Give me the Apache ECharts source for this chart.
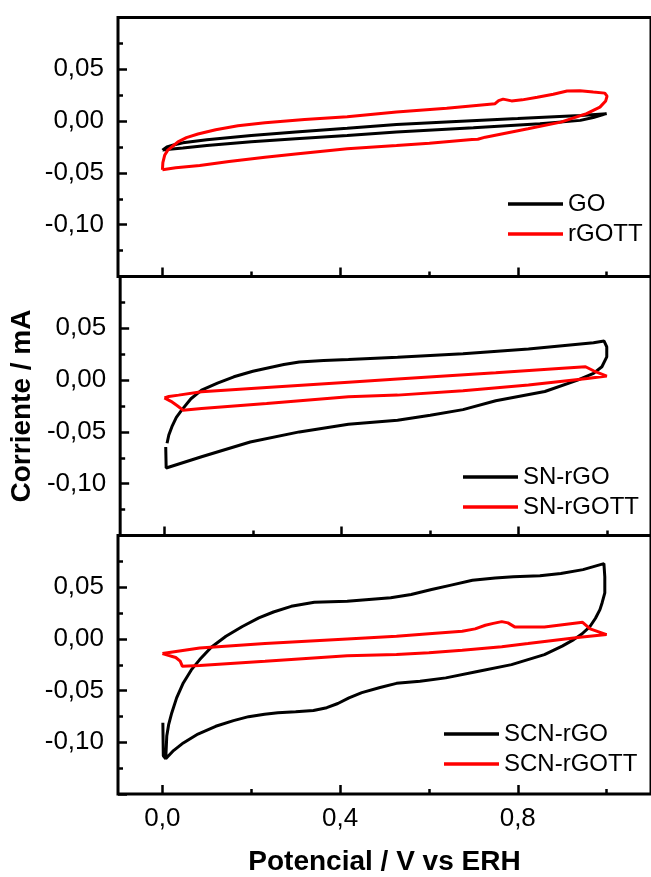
<!DOCTYPE html>
<html>
<head>
<meta charset="utf-8">
<title>Voltametría cíclica</title>
<script src="https://cdn.jsdelivr.net/npm/echarts@6/dist/echarts.min.js"></script>
<style>
    html, body { margin: 0; padding: 0; background: #fff; }
    #chart { width: 651px; height: 877px; }
</style>
</head>
<body>
<div id="chart"></div>
<script>
/*
|--------------------------------------------------------------------------
| Data (potential V vs ERH, current mA)
|--------------------------------------------------------------------------
*/

const seriesNames = ['GO', 'rGOTT', 'SN-rGO', 'SN-rGOTT', 'SCN-rGO', 'SCN-rGOTT'];

const xMajorTicks = [0, 0.4, 0.8];
const xMinorTicks = [0.2, 0.6, 1.0];

const go = [
    [0.000, -0.028], [0.010, -0.025], [0.025, -0.023], [0.046, -0.021], [0.100, -0.018],
    [0.200, -0.0138], [0.300, -0.0105], [0.416, -0.0068], [0.527, -0.0032], [0.650, -0.0006],
    [0.800, 0.0025], [0.941, 0.0055], [1.000, 0.0072], [0.970, 0.0035], [0.941, 0.0007],
    [0.850, -0.0025], [0.700, -0.0065], [0.527, -0.0106], [0.416, -0.0138], [0.300, -0.017],
    [0.200, -0.020], [0.100, -0.0235], [0.046, -0.026], [0.010, -0.0275], [0.000, -0.028],
];

const rgott = [
    [0.000, -0.047], [0.001, -0.040], [0.005, -0.033], [0.012, -0.028], [0.021, -0.025],
    [0.035, -0.020], [0.054, -0.016], [0.080, -0.0125], [0.120, -0.0084], [0.170, -0.0045],
    [0.231, -0.0015], [0.320, 0.0015], [0.416, 0.0043], [0.527, 0.0087], [0.640, 0.0125],
    [0.749, 0.0168], [0.757, 0.0198], [0.767, 0.0212], [0.786, 0.0195], [0.810, 0.0205],
    [0.844, 0.023], [0.880, 0.026], [0.911, 0.029], [0.940, 0.0292], [0.970, 0.028],
    [0.996, 0.027], [1.001, 0.024], [0.998, 0.0195], [0.985, 0.0135], [0.955, 0.0072],
    [0.897, -0.001], [0.823, -0.0074], [0.727, -0.0155], [0.710, -0.0175], [0.697, -0.0178],
    [0.601, -0.0213], [0.527, -0.0235], [0.416, -0.0267], [0.300, -0.0318], [0.231, -0.0348],
    [0.150, -0.039], [0.084, -0.0428], [0.030, -0.045], [0.000, -0.047],
];

const snRgo = [
    [0.006, -0.061], [0.010, -0.053], [0.017, -0.045], [0.027, -0.036], [0.039, -0.029],
    [0.060, -0.018], [0.084, -0.0097], [0.120, -0.003], [0.157, 0.0032], [0.200, 0.0085],
    [0.231, 0.0115], [0.270, 0.0150], [0.305, 0.0175], [0.360, 0.0190], [0.416, 0.0200],
    [0.527, 0.0220], [0.675, 0.0255], [0.823, 0.0300], [0.970, 0.0360], [0.994, 0.0377],
    [1.000, 0.032], [1.000, 0.0225], [0.989, 0.0129], [0.970, 0.0065], [0.934, 0.000],
    [0.860, -0.011], [0.749, -0.020], [0.675, -0.0285], [0.601, -0.034], [0.527, -0.0387],
    [0.416, -0.0426], [0.305, -0.050], [0.194, -0.0597], [0.084, -0.074], [0.004, -0.0848],
    [0.003, -0.0645],
];

const snRgott = [
    [0.000, -0.0171], [0.010, -0.0158], [0.032, -0.0145], [0.084, -0.0113], [0.231, -0.0072],
    [0.416, -0.0020], [0.527, 0.0011], [0.749, 0.0072], [0.900, 0.0115], [0.952, 0.0129],
    [0.970, 0.0090], [1.000, 0.0039], [0.956, 0.0016], [0.823, -0.0048], [0.675, -0.0103],
    [0.527, -0.0145], [0.416, -0.0161], [0.231, -0.0225], [0.084, -0.0275], [0.042, -0.0290],
    [0.030, -0.0250], [0.015, -0.0205], [0.000, -0.0171],
];

const scnRgo = [
    [0.001, -0.081], [0.002, -0.113], [0.0075, -0.116], [0.0098, -0.094], [0.014, -0.083],
    [0.021, -0.0716], [0.032, -0.057], [0.047, -0.0426], [0.065, -0.030], [0.084, -0.020],
    [0.110, -0.008], [0.143, 0.0025], [0.180, 0.012], [0.217, 0.0203], [0.250, 0.026],
    [0.290, 0.0315], [0.342, 0.0354], [0.416, 0.0364], [0.514, 0.0397], [0.560, 0.043],
    [0.606, 0.0477], [0.650, 0.052], [0.698, 0.0567], [0.749, 0.059], [0.790, 0.060],
    [0.850, 0.061], [0.897, 0.0632], [0.947, 0.067], [0.994, 0.0728], [0.996, 0.060],
    [0.996, 0.0445], [0.990, 0.035], [0.985, 0.0283], [0.975, 0.020], [0.963, 0.0122],
    [0.945, 0.005], [0.926, -0.0007], [0.900, -0.007], [0.860, -0.0152], [0.786, -0.0249],
    [0.712, -0.0313], [0.638, -0.0377], [0.580, -0.041], [0.527, -0.043], [0.490, -0.047],
    [0.449, -0.052], [0.420, -0.057], [0.395, -0.0625], [0.370, -0.0665], [0.340, -0.0693],
    [0.300, -0.0705], [0.260, -0.0715], [0.230, -0.0728], [0.194, -0.0752], [0.160, -0.079],
    [0.120, -0.0845], [0.080, -0.092], [0.047, -0.1006], [0.025, -0.108], [0.0075, -0.116],
];

const scnRgott = [
    [0.000, -0.0142], [0.084, -0.0087], [0.231, -0.0045], [0.416, 0.000], [0.527, 0.0025],
    [0.600, 0.005], [0.675, 0.0074], [0.704, 0.0097], [0.727, 0.0132], [0.745, 0.015],
    [0.764, 0.0167], [0.778, 0.0155], [0.793, 0.0116], [0.860, 0.0116], [0.946, 0.016],
    [0.963, 0.0097], [1.000, 0.0042], [0.940, 0.0015], [0.823, -0.0045], [0.764, -0.0075],
    [0.675, -0.011], [0.600, -0.0135], [0.527, -0.0152], [0.416, -0.0162], [0.231, -0.0217],
    [0.084, -0.0258], [0.045, -0.0265], [0.040, -0.0215], [0.030, -0.018], [0.000, -0.0142],
];

/*
|--------------------------------------------------------------------------
| Shared options
|--------------------------------------------------------------------------
*/

const fontFamily = 'Liberation Sans, Arial, sans-serif';
const panelTops = [17.5, 276.5, 535.5];
const panelHeight = 259;

function commaFormat(digits) {
    return value => (Math.abs(value) < 1e-9 ? 0 : value).toFixed(digits).replace('.', ',');
}

const tickLineStyle = { color: '#000', width: 2.5 };

function buildGrid(top) {
    return {
        left: 118,
        top,
        width: 541,
        height: panelHeight,
        show: true,
        borderColor: '#000',
        borderWidth: 3,
        backgroundColor: 'transparent',
    };
}

function buildYAxis(gridIndex, withName) {
    return {
        type: 'value',
        gridIndex,
        min: -0.15,
        max: 0.10,
        interval: 0.05,
        position: 'left',
        axisLine: { show: false, onZero: false },
        axisTick: { show: true, inside: true, length: 9, lineStyle: tickLineStyle },
        minorTick: { show: true, splitNumber: 2, length: 5, lineStyle: tickLineStyle },
        splitLine: { show: false },
        axisLabel: {
            showMinLabel: false,
            showMaxLabel: false,
            margin: 14,
            fontSize: 26,
            fontFamily,
            color: '#000',
            formatter: commaFormat(2),
        },
        name: withName ? 'Corriente / mA' : '',
        nameLocation: 'middle',
        nameRotate: 90,
        nameGap: 80,
        nameTextStyle: { fontSize: 28, fontWeight: 'bold', fontFamily, color: '#000' },
    };
}

function buildXAxes(gridIndex, isBottom) {
    const major = {
        type: 'value',
        gridIndex,
        min: -0.1,
        max: 1.1,
        position: 'bottom',
        axisLine: { show: false, onZero: false },
        splitLine: { show: false },
        axisTick: { show: true, inside: true, length: 9, customValues: xMajorTicks, lineStyle: tickLineStyle },
        axisLabel: {
            show: isBottom,
            customValues: xMajorTicks,
            margin: 12,
            fontSize: 26,
            fontFamily,
            color: '#000',
            formatter: commaFormat(1),
        },
        name: isBottom ? 'Potencial / V vs ERH' : '',
        nameLocation: 'middle',
        nameGap: 54,
        nameTextStyle: { fontSize: 28, fontWeight: 'bold', fontFamily, color: '#000' },
    };
    // Second axis only carries the short ticks between the labelled ones
    const minor = {
        type: 'value',
        gridIndex,
        min: -0.1,
        max: 1.1,
        position: 'bottom',
        axisLine: { show: false, onZero: false },
        splitLine: { show: false },
        axisLabel: { show: false },
        axisTick: { show: true, inside: true, length: 5, customValues: xMinorTicks, lineStyle: tickLineStyle },
    };
    return [major, minor];
}

function buildLine(name, data, color, gridIndex) {
    return {
        name,
        type: 'line',
        data,
        xAxisIndex: gridIndex * 2,
        yAxisIndex: gridIndex,
        symbol: 'none',
        clip: true,
        lineStyle: { color, width: 3 },
        itemStyle: { color },
        z: color === '#ff0000' ? 3 : 2,
    };
}

function buildLegend(names, left, top) {
    return {
        data: names,
        orient: 'vertical',
        left,
        top,
        icon: 'rect',
        itemWidth: 55,
        itemHeight: 3.5,
        itemGap: 6,
        textStyle: { fontSize: 24, lineHeight: 24, fontFamily, color: '#000' },
    };
}

/*
|--------------------------------------------------------------------------
| Chart
|--------------------------------------------------------------------------
*/

function initializeChart() {
    const chart = echarts.init(document.getElementById('chart'), null, { renderer: 'canvas' });

    chart.setOption({
        animation: false,
        backgroundColor: '#fff',
        grid: panelTops.map(buildGrid),
        xAxis: [...buildXAxes(0, false), ...buildXAxes(1, false), ...buildXAxes(2, true)],
        yAxis: [buildYAxis(0, false), buildYAxis(1, true), buildYAxis(2, false)],
        legend: [
            buildLegend([seriesNames[0], seriesNames[1]], 503, 187),
            buildLegend([seriesNames[2], seriesNames[3]], 458, 460),
            buildLegend([seriesNames[4], seriesNames[5]], 439, 717),
        ],
        series: [
            buildLine(seriesNames[0], go, '#000000', 0),
            buildLine(seriesNames[1], rgott, '#ff0000', 0),
            buildLine(seriesNames[2], snRgo, '#000000', 1),
            buildLine(seriesNames[3], snRgott, '#ff0000', 1),
            buildLine(seriesNames[4], scnRgo, '#000000', 2),
            buildLine(seriesNames[5], scnRgott, '#ff0000', 2),
        ],
    });
}

initializeChart();
</script>
</body>
</html>
